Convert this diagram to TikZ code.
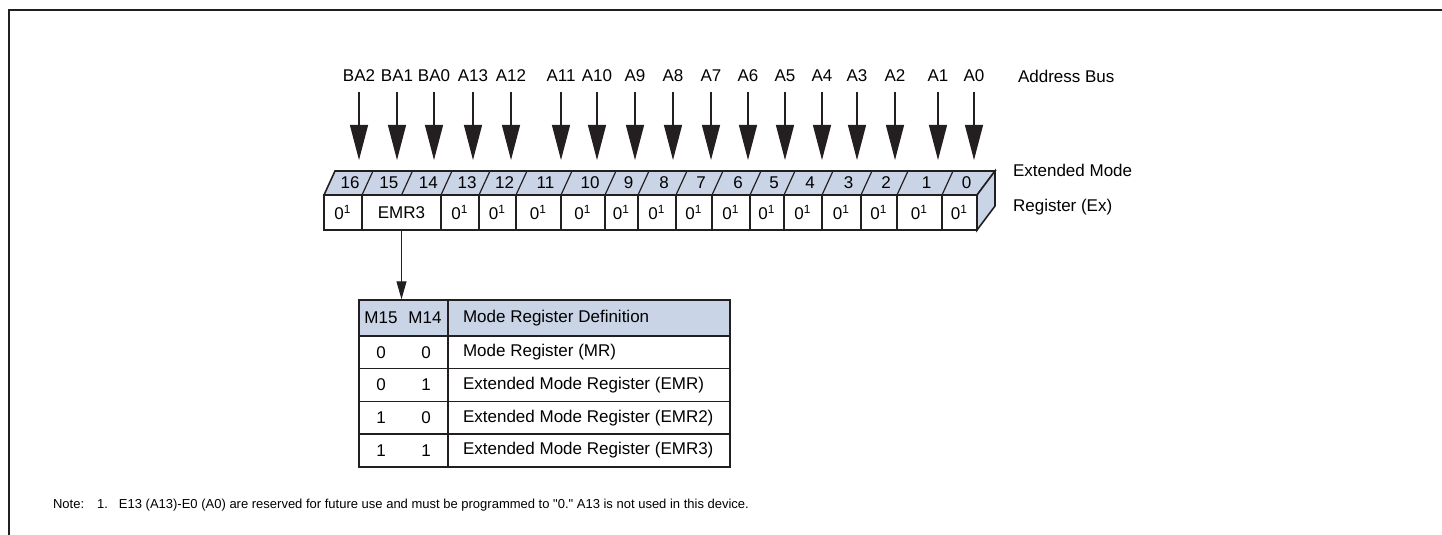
\documentclass[tikz,border=0pt]{standalone}
\usepackage{fontspec}
\setmainfont{Liberation Sans}
\newfontfamily\rawfont{Liberation Sans}[Ligatures=TeXOff]
\usetikzlibrary{arrows.meta,positioning}
\definecolor{regblue}{RGB}{201,212,230}
\definecolor{linegray}{RGB}{35,31,32}
\newcommand{\rsv}{0\textsuperscript{1}}
\begin{document}
\begin{tikzpicture}[x=0.5pt,y=-0.5pt,font=\fontsize{8.5}{10}\selectfont,
    busarrow/.style={draw=linegray,line width=0.6pt,-{Triangle[length=17.5pt,width=9pt]}},
    defarrow/.style={draw=linegray,line width=0.6pt,-{Triangle[length=9pt,width=5pt]}},
    regcell/.style={draw=linegray,line width=0.8pt,fill=white,minimum height=17.5pt,inner sep=0pt},
    tabcell/.style={draw=linegray,line width=0.7pt,inner sep=0pt}]
    \useasboundingbox (0,0) rectangle (1442,535);
    \draw[linegray,line width=0.9pt] (9,535) -- (9,10) -- (1442,10);
    % address bus
    \foreach \name/\x in {BA2/359,BA1/397,BA0/434,A13/473,A12/511,A11/561,A10/597,A9/635,A8/673,A7/711,A6/748,A5/785,A4/822,A3/857,A2/895,A1/938,A0/974} {
        \node (bus\name) at (\x,76) {\name};
        \coordinate (tip\name) at (\x,160);
        \draw[busarrow,shorten <=1.5pt] (bus\name.south) -- (tip\name);
    }
    \node[anchor=west] (busname) at (1011,76) {Address Bus};
    % register, top and side faces
    \filldraw[fill=regblue,draw=linegray,line width=0.8pt] (324,195) -- (335,171) -- (995,171) -- (977,195) -- cycle;
    \filldraw[fill=regblue,draw=linegray,line width=0.8pt] (977,195) -- (995,171) -- (995,206) -- (977,230) -- cycle;
    \foreach \b in {362,401.5,441,479,516,561,605,638,676,712,750,784,822,861,897,942}
        \draw[linegray,line width=0.6pt] (\b,195) -- (\b+11,171);
    \foreach \l/\r/\n in {324/362/16,362/401.5/15,401.5/441/14,441/479/13,479/516/12,516/561/11,561/605/10,605/638/9,638/676/8,676/712/7,712/750/6,750/784/5,784/822/4,822/861/3,861/897/2,897/942/1,942/977/0}
        \node (bit\n) at ({(\l+\r)/2+7},183) {\n};
    % register, front cells
    \foreach \l/\r/\n/\txt in {324/362/16/\rsv,362/441/EMR/EMR3,441/479/13/\rsv,479/516/12/\rsv,516/561/11/\rsv,561/605/10/\rsv,605/638/9/\rsv,638/676/8/\rsv,676/712/7/\rsv,712/750/6/\rsv,750/784/5/\rsv,784/822/4/\rsv,822/861/3/\rsv,861/897/2/\rsv,897/942/1/\rsv,942/977/0/\rsv}
        \node[regcell,minimum width={(\r-\l)*0.5pt}] (cell\n) at ({(\l+\r)/2},212.5) {\txt};
    \node[anchor=west,align=left,font=\fontsize{8.5}{17.5}\selectfont] (regname) at (1006,189.5) {Extended Mode\\Register (Ex)};
    % mode register table
    \node[tabcell,fill=regblue,minimum width=44.5pt,minimum height=18pt] (hdbits) at (403.5,318) {};
    \node[tabcell,fill=regblue,minimum width=141pt,minimum height=18pt] (hddef) at (589,318) {};
    \node (hdM15) at (381,318) {M15};
    \node (hdM14) at (425,318) {M14};
    \node[anchor=west] (hdtext) at (456,318) {Mode Register Definition};
    \foreach \a/\b/\desc [count=\i] in {0/0/Mode Register (MR),0/1/Extended Mode Register (EMR),1/0/Extended Mode Register (EMR2),1/1/Extended Mode Register (EMR3)} {
        \pgfmathsetmacro\ym{336+(\i-0.5)*32.7}
        \node[tabcell,minimum width=44.5pt,minimum height=16.35pt] (bits\i) at (403.5,\ym) {};
        \node[tabcell,minimum width=141pt,minimum height=16.35pt] (def\i) at (589,\ym) {};
        \node (ma\i) at (381,\ym) {\a};
        \node (mb\i) at (426,\ym) {\b};
        \node[anchor=west] (desc\i) at (456,\ym) {\desc};
    }
    \draw[defarrow] (cellEMR.south) -- (cellEMR.south |- hdbits.north);
    % note
    \node[anchor=west,font=\rawfont\fontsize{6.5}{7}\selectfont] (note) at (46,505) {Note:\hspace{6.5pt}1.\hspace{5.5pt}E13 (A13)-E0 (A0) are reserved for future use and must be programmed to "0." A13 is not used in this device.};
\end{tikzpicture}
\end{document}
